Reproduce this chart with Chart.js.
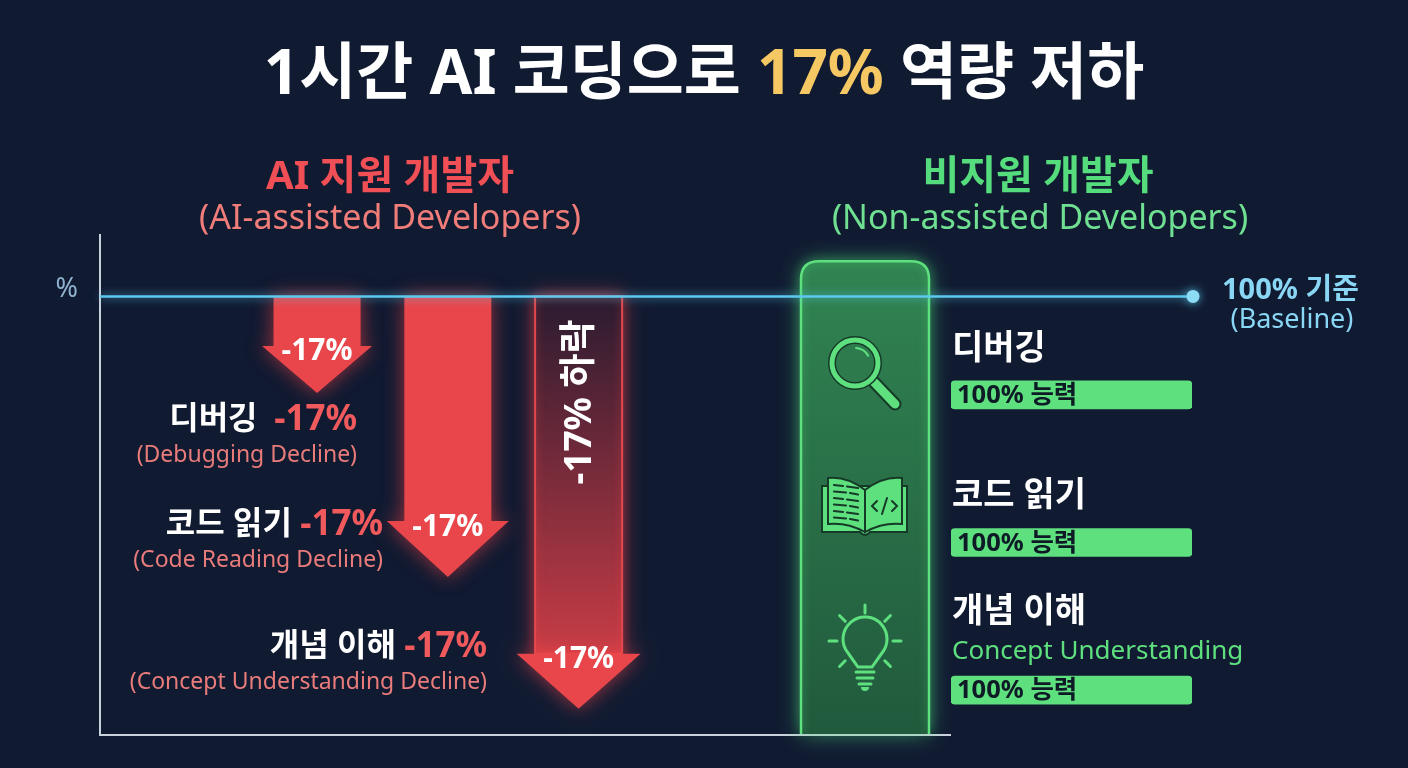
<!DOCTYPE html>
<html lang="ko">
<head>
<meta charset="utf-8">
<title>1시간 AI 코딩으로 17% 역량 저하</title>
<script src="https://cdn.jsdelivr.net/npm/chart.js@4.4.1/dist/chart.umd.min.js"></script>
<style>
  html, body { margin: 0; padding: 0; background: #101a31; }
  #wrap { position: relative; width: 1408px; height: 768px; overflow: hidden; }
  #main { position: absolute; left: 0; top: 0; }
  #panel { position: absolute; left: 940px; top: 321px; }
</style>
</head>
<body>
<div id="wrap">
  <canvas id="main" width="1408" height="768"></canvas>
  <canvas id="panel" width="330" height="443"></canvas>
</div>
<script>
/* data */
const skills = ['디버깅', '코드 읽기', '개념 이해'];
const skillsEn = ['Debugging', 'Code Reading', 'Concept Understanding'];
const aiDrop = [-17, -17, -17];
const arrowEnds = [78, 36, 6];          // where each arrow tip sits on the % axis
const nonAssisted = [100, 100, 100];
const baseline = 100;

/* look */
const FONT = '"Noto Sans", "Noto Sans CJK KR", sans-serif';
const RED = '#e8464b';
const GREEN = '#5ee07e';
const CYAN = '#5cc9ef';
const BG = '#101a31';

const arrowHeadW = [110, 122, 124];
const arrowHeadH = [47, 56, 55];
const labelAnchor = [[357, 420], [383, 525], [487, 647]];
const panelCol = { x: 4.19, top: 108, width: 128 };
const iconY = [365, 506, 641];

function f(size, weight) {
    return (weight || 400) + ' ' + size + 'px ' + FONT;
}

// text made of coloured pieces, anchored by its right / left / centre
function richText(ctx, parts, x, y, align) {
    let total = 0;
    parts.forEach(p => { ctx.font = p.font; p.w = ctx.measureText(p.text).width; total += p.w; });
    let cx = align === 'right' ? x - total : align === 'center' ? x - total / 2 : x;
    ctx.textAlign = 'left';
    ctx.textBaseline = 'middle';
    parts.forEach(p => {
        ctx.font = p.font;
        ctx.fillStyle = p.color;
        ctx.fillText(p.text, cx, y);
        cx += p.w;
    });
}

function text(ctx, str, x, y, font, color, align) {
    ctx.font = font;
    ctx.fillStyle = color;
    ctx.textAlign = align || 'left';
    ctx.textBaseline = 'middle';
    ctx.fillText(str, x, y);
}

function roundTopRect(ctx, x, y, w, h, r) {
    ctx.beginPath();
    ctx.moveTo(x, y + h);
    ctx.lineTo(x, y + r);
    ctx.quadraticCurveTo(x, y, x + r, y);
    ctx.lineTo(x + w - r, y);
    ctx.quadraticCurveTo(x + w, y, x + w, y + r);
    ctx.lineTo(x + w, y + h);
}

function drawMagnifier(ctx, cx, cy) {
    const dark = '#163a28';
    ctx.lineCap = 'round';
    ctx.strokeStyle = dark;
    ctx.lineWidth = 13;
    ctx.beginPath(); ctx.moveTo(cx + 9, cy + 17); ctx.lineTo(cx + 30, cy + 39); ctx.stroke();
    ctx.strokeStyle = GREEN;
    ctx.lineWidth = 9;
    ctx.beginPath(); ctx.moveTo(cx + 9, cy + 17); ctx.lineTo(cx + 30, cy + 39); ctx.stroke();
    ctx.strokeStyle = dark;
    ctx.lineWidth = 8;
    ctx.beginPath(); ctx.arc(cx - 10, cy - 2, 23, 0, Math.PI * 2); ctx.stroke();
    ctx.strokeStyle = GREEN;
    ctx.lineWidth = 5;
    ctx.beginPath(); ctx.arc(cx - 10, cy - 2, 23, 0, Math.PI * 2); ctx.stroke();
    ctx.lineWidth = 2;
    ctx.beginPath(); ctx.arc(cx - 10, cy - 2, 15, -1.5, -0.5); ctx.stroke();
}

function drawBook(ctx, cx, cy) {
    const dark = '#163a28';
    ctx.lineWidth = 2;
    ctx.strokeStyle = dark;
    ctx.fillStyle = GREEN;
    // cover
    ctx.beginPath();
    ctx.moveTo(cx - 43, cy - 20);
    ctx.lineTo(cx - 43, cy + 26);
    ctx.lineTo(cx - 5, cy + 26);
    ctx.quadraticCurveTo(cx, cy + 32, cx + 5, cy + 26);
    ctx.lineTo(cx + 42, cy + 26);
    ctx.lineTo(cx + 42, cy - 20);
    ctx.closePath();
    ctx.fill(); ctx.stroke();
    // pages
    [-1, 1].forEach(s => {
        ctx.beginPath();
        ctx.moveTo(cx, cy - 16);
        ctx.quadraticCurveTo(cx + s * 18, cy - 30, cx + s * 37, cy - 28);
        ctx.lineTo(cx + s * 37, cy + 18);
        ctx.quadraticCurveTo(cx + s * 18, cy + 16, cx, cy + 26);
        ctx.closePath();
        ctx.fillStyle = GREEN;
        ctx.fill(); ctx.stroke();
    });
    // text lines
    ctx.lineWidth = 2.2;
    ctx.lineCap = 'round';
    for (let k = 0; k < 6; k++) {
        const y = cy - 20 + k * 6.5;
        ctx.beginPath();
        ctx.moveTo(cx - 31, y - 1); ctx.lineTo(cx - 22 + (k % 2) * 3, y);
        ctx.moveTo(cx - 18 + (k % 2) * 3, y + 0.5); ctx.lineTo(cx - 7, y + 2);
        ctx.stroke();
    }
    // </>
    ctx.lineWidth = 2;
    ctx.beginPath();
    ctx.moveTo(cx + 12, cy - 5); ctx.lineTo(cx + 7, cy); ctx.lineTo(cx + 12, cy + 5);
    ctx.moveTo(cx + 22, cy - 8); ctx.lineTo(cx + 17, cy + 8);
    ctx.moveTo(cx + 27, cy - 5); ctx.lineTo(cx + 32, cy); ctx.lineTo(cx + 27, cy + 5);
    ctx.stroke();
}

function drawBulb(ctx, cx, cy) {
    ctx.strokeStyle = GREEN;
    ctx.lineCap = 'round';
    ctx.lineWidth = 3;
    ctx.beginPath();
    ctx.arc(cx, cy - 2, 22, Math.PI * 0.78, Math.PI * 0.22);
    ctx.lineTo(cx + 7, cy + 26);
    ctx.lineTo(cx - 7, cy + 26);
    ctx.closePath();
    ctx.stroke();
    [[31, 9], [37, 8], [43, 6]].forEach(([y, hw]) => {
        ctx.beginPath(); ctx.moveTo(cx - hw, cy + y); ctx.lineTo(cx + hw, cy + y); ctx.stroke();
    });
    ctx.beginPath(); ctx.arc(cx, cy + 46, 4, 0, Math.PI); ctx.fill();
    [-90, -135, -45, 180, 0, 135, 45].forEach(a => {
        const r = a * Math.PI / 180;
        ctx.beginPath();
        ctx.moveTo(cx + Math.cos(r) * 28, cy + Math.sin(r) * 28);
        ctx.lineTo(cx + Math.cos(r) * 36, cy + Math.sin(r) * 36);
        ctx.stroke();
    });
}

const infographic = {
    id: 'infographic',
    beforeDraw(chart) {
        const ctx = chart.ctx;
        ctx.save();
        ctx.fillStyle = BG;
        ctx.fillRect(0, 0, chart.width, chart.height);
        ctx.restore();
    },
    beforeDatasetsDraw(chart) {
        // green column behind the non-assisted side
        const ctx = chart.ctx, xs = chart.scales.x, ys = chart.scales.y;
        const cx = xs.getPixelForValue(panelCol.x);
        const top = ys.getPixelForValue(panelCol.top);
        const bottom = chart.chartArea.bottom - 1;
        const x0 = cx - panelCol.width / 2;
        ctx.save();
        const g = ctx.createLinearGradient(0, top, 0, bottom);
        g.addColorStop(0, '#318452');
        g.addColorStop(1, '#215a3d');
        ctx.shadowColor = 'rgba(80,230,120,0.55)';
        ctx.shadowBlur = 22;
        roundTopRect(ctx, x0, top, panelCol.width, bottom - top, 18);
        ctx.fillStyle = g;
        ctx.fill();
        ctx.shadowBlur = 10;
        ctx.strokeStyle = GREEN;
        ctx.lineWidth = 2.5;
        ctx.stroke();
        ctx.shadowBlur = 0;
        ctx.fillStyle = GREEN;
        drawMagnifier(ctx, cx, iconY[0]);
        drawBook(ctx, cx, iconY[1]);
        drawBulb(ctx, cx, iconY[2]);
        ctx.restore();
    },
    afterDatasetsDraw(chart) {
        const ctx = chart.ctx;
        const ys = chart.scales.y;
        const bars = chart.getDatasetMeta(0).data;
        ctx.save();
        bars.forEach((el, i) => {
            const top = Math.min(el.y, el.base);
            const tip = Math.max(el.y, el.base);
            const cx = el.x, sw = el.width / 2;
            const hw = arrowHeadW[i] / 2, hh = arrowHeadH[i];
            const sb = tip - hh;
            ctx.shadowColor = 'rgba(255,70,70,0.6)';
            ctx.shadowBlur = 20;
            if (i === bars.length - 1) {
                // outlined gradient shaft for the last one
                const g = ctx.createLinearGradient(0, top, 0, sb);
                g.addColorStop(0, '#2a1b30');
                g.addColorStop(1, '#c83c46');
                ctx.fillStyle = g;
                ctx.fillRect(cx - sw, top, sw * 2, sb - top + 1);
                ctx.shadowBlur = 8;
                ctx.strokeStyle = '#e3474e';
                ctx.lineWidth = 2;
                ctx.strokeRect(cx - sw, top, sw * 2, sb - top);
                ctx.shadowBlur = 20;
                ctx.beginPath();
                ctx.moveTo(cx - hw, sb); ctx.lineTo(cx + hw, sb); ctx.lineTo(cx, tip);
                ctx.closePath();
                ctx.fillStyle = RED;
                ctx.fill();
            } else {
                ctx.beginPath();
                ctx.moveTo(cx - sw, top); ctx.lineTo(cx + sw, top);
                ctx.lineTo(cx + sw, sb); ctx.lineTo(cx + hw, sb);
                ctx.lineTo(cx, tip); ctx.lineTo(cx - hw, sb);
                ctx.lineTo(cx - sw, sb);
                ctx.closePath();
                ctx.fillStyle = RED;
                ctx.fill();
            }
            ctx.shadowBlur = 0;
            text(ctx, aiDrop[i] + '%', cx, sb + 6, f(30, 700), '#ffffff', 'center');
        });
        // vertical label on the long arrow
        const last = bars[bars.length - 1];
        ctx.save();
        ctx.translate(last.x + 2, 402);
        ctx.rotate(-Math.PI / 2);
        text(ctx, aiDrop[2] + '% 하락', 0, 0, f(37, 700), '#ffffff', 'center');
        ctx.restore();

        // 100% baseline
        const by = ys.getPixelForValue(baseline);
        const endX = 1193;
        ctx.shadowColor = 'rgba(90,200,240,0.9)';
        ctx.shadowBlur = 10;
        ctx.strokeStyle = CYAN;
        ctx.lineWidth = 2.5;
        ctx.beginPath(); ctx.moveTo(chart.chartArea.left, by); ctx.lineTo(endX, by); ctx.stroke();
        ctx.fillStyle = '#8ddcf6';
        ctx.beginPath(); ctx.arc(endX, by, 6.5, 0, Math.PI * 2); ctx.fill();
        ctx.shadowBlur = 0;
        text(ctx, baseline + '% 기준', 1222, by - 6, f(29, 700), '#8ad6f5');
        text(ctx, '(Baseline)', 1292, by + 24, f(27), '#8ad6f5', 'center');

        // left labels
        skills.forEach((s, i) => {
            const [rx, ry] = labelAnchor[i];
            richText(ctx, [
                { text: s + (i === 0 ? '  ' : ' '), font: f(32, 700), color: '#ffffff' },
                { text: aiDrop[i] + '%', font: f(35, 700), color: '#f05a5c' }
            ], rx, ry, 'right');
            text(ctx, '(' + skillsEn[i] + ' Decline)', rx, ry + 35, f(23), '#e97c7b', 'right');
        });
        ctx.restore();
    },
    afterDraw(chart) {
        const ctx = chart.ctx;
        ctx.save();
        richText(ctx, [
            { text: '1시간 AI 코딩으로 ', font: f(62, 700), color: '#ffffff' },
            { text: '17%', font: f(62, 700), color: '#f6c864' },
            { text: ' 역량 저하', font: f(62, 700), color: '#ffffff' }
        ], 704, 76, 'center');
        text(ctx, 'AI 지원 개발자', 390, 178, f(40, 700), '#ef4f55', 'center');
        text(ctx, '(AI-assisted Developers)', 390, 219, f(34), '#f07d79', 'center');
        text(ctx, '비지원 개발자', 1038, 178, f(40, 700), '#55dc7c', 'center');
        text(ctx, '(Non-assisted Developers)', 1040, 219, f(34), '#6fe091', 'center');
        ctx.restore();
    }
};

const mainChart = new Chart(document.getElementById('main'), {
    type: 'bar',
    data: {
        datasets: [{
            label: 'AI 지원 개발자',
            data: skills.map((s, i) => ({ x: i, y: [baseline, arrowEnds[i]] })),
            backgroundColor: 'rgba(0,0,0,0)',
            barThickness: 87,
            clip: false
        }]
    },
    options: {
        responsive: false,
        animation: false,
        layout: { padding: { top: 235, right: 458, bottom: 33, left: 0 } },
        plugins: { legend: { display: false }, tooltip: { enabled: false } },
        scales: {
            x: {
                type: 'linear',
                offset: false,
                min: -1.66,
                max: 4.84,
                grid: { display: false, drawTicks: false, offset: false },
                ticks: { display: false },
                border: { color: '#c9d1dc', width: 2 },
                afterFit: s => { s.height = 0; s.paddingLeft = 0; s.paddingRight = 0; }
            },
            y: {
                min: 0,
                max: 114,
                grid: { display: false, drawTicks: false },
                border: { color: '#c9d1dc', width: 2 },
                afterBuildTicks: s => { s.ticks = [{ value: baseline }]; },
                afterFit: s => { s.width = 100; s.paddingTop = 0; s.paddingBottom = 0; },
                ticks: {
                    callback: v => v === baseline ? '%' : '',
                    color: '#8fb3cf',
                    font: { family: FONT, size: 27 },
                    padding: 22,
                    labelOffset: -7
                }
            }
        }
    },
    plugins: [infographic]
});

const panelText = {
    id: 'panelText',
    afterDatasetsDraw(chart) {
        const ctx = chart.ctx;
        const left = chart.chartArea.left;
        ctx.save();
        chart.getDatasetMeta(0).data.forEach((bar, i) => {
            const sub = i === 2;
            text(ctx, skills[i], left + 1, bar.y - (sub ? 78 : 46), f(34, 700), '#ffffff');
            if (sub) text(ctx, skillsEn[i], left + 1, bar.y - 39, f(26), GREEN);
            text(ctx, nonAssisted[i] + '% 능력', bar.base + 6, bar.y + 1, f(25.5, 700), '#0e1b26');
        });
        ctx.restore();
    }
};

const panelChart = new Chart(document.getElementById('panel'), {
    type: 'bar',
    data: {
        labels: skills,
        datasets: [{
            label: '비지원 개발자',
            data: nonAssisted,
            backgroundColor: GREEN,
            borderRadius: 4,
            borderSkipped: false,
            barThickness: 28
        }]
    },
    options: {
        indexAxis: 'y',
        responsive: false,
        animation: false,
        layout: { padding: { left: 11, right: 78, top: 0, bottom: 0 } },
        plugins: { legend: { display: false }, tooltip: { enabled: false } },
        scales: {
            x: { display: false, min: 0, max: 100 },
            y: { display: false }
        }
    },
    plugins: [panelText]
});
</script>
</body>
</html>
